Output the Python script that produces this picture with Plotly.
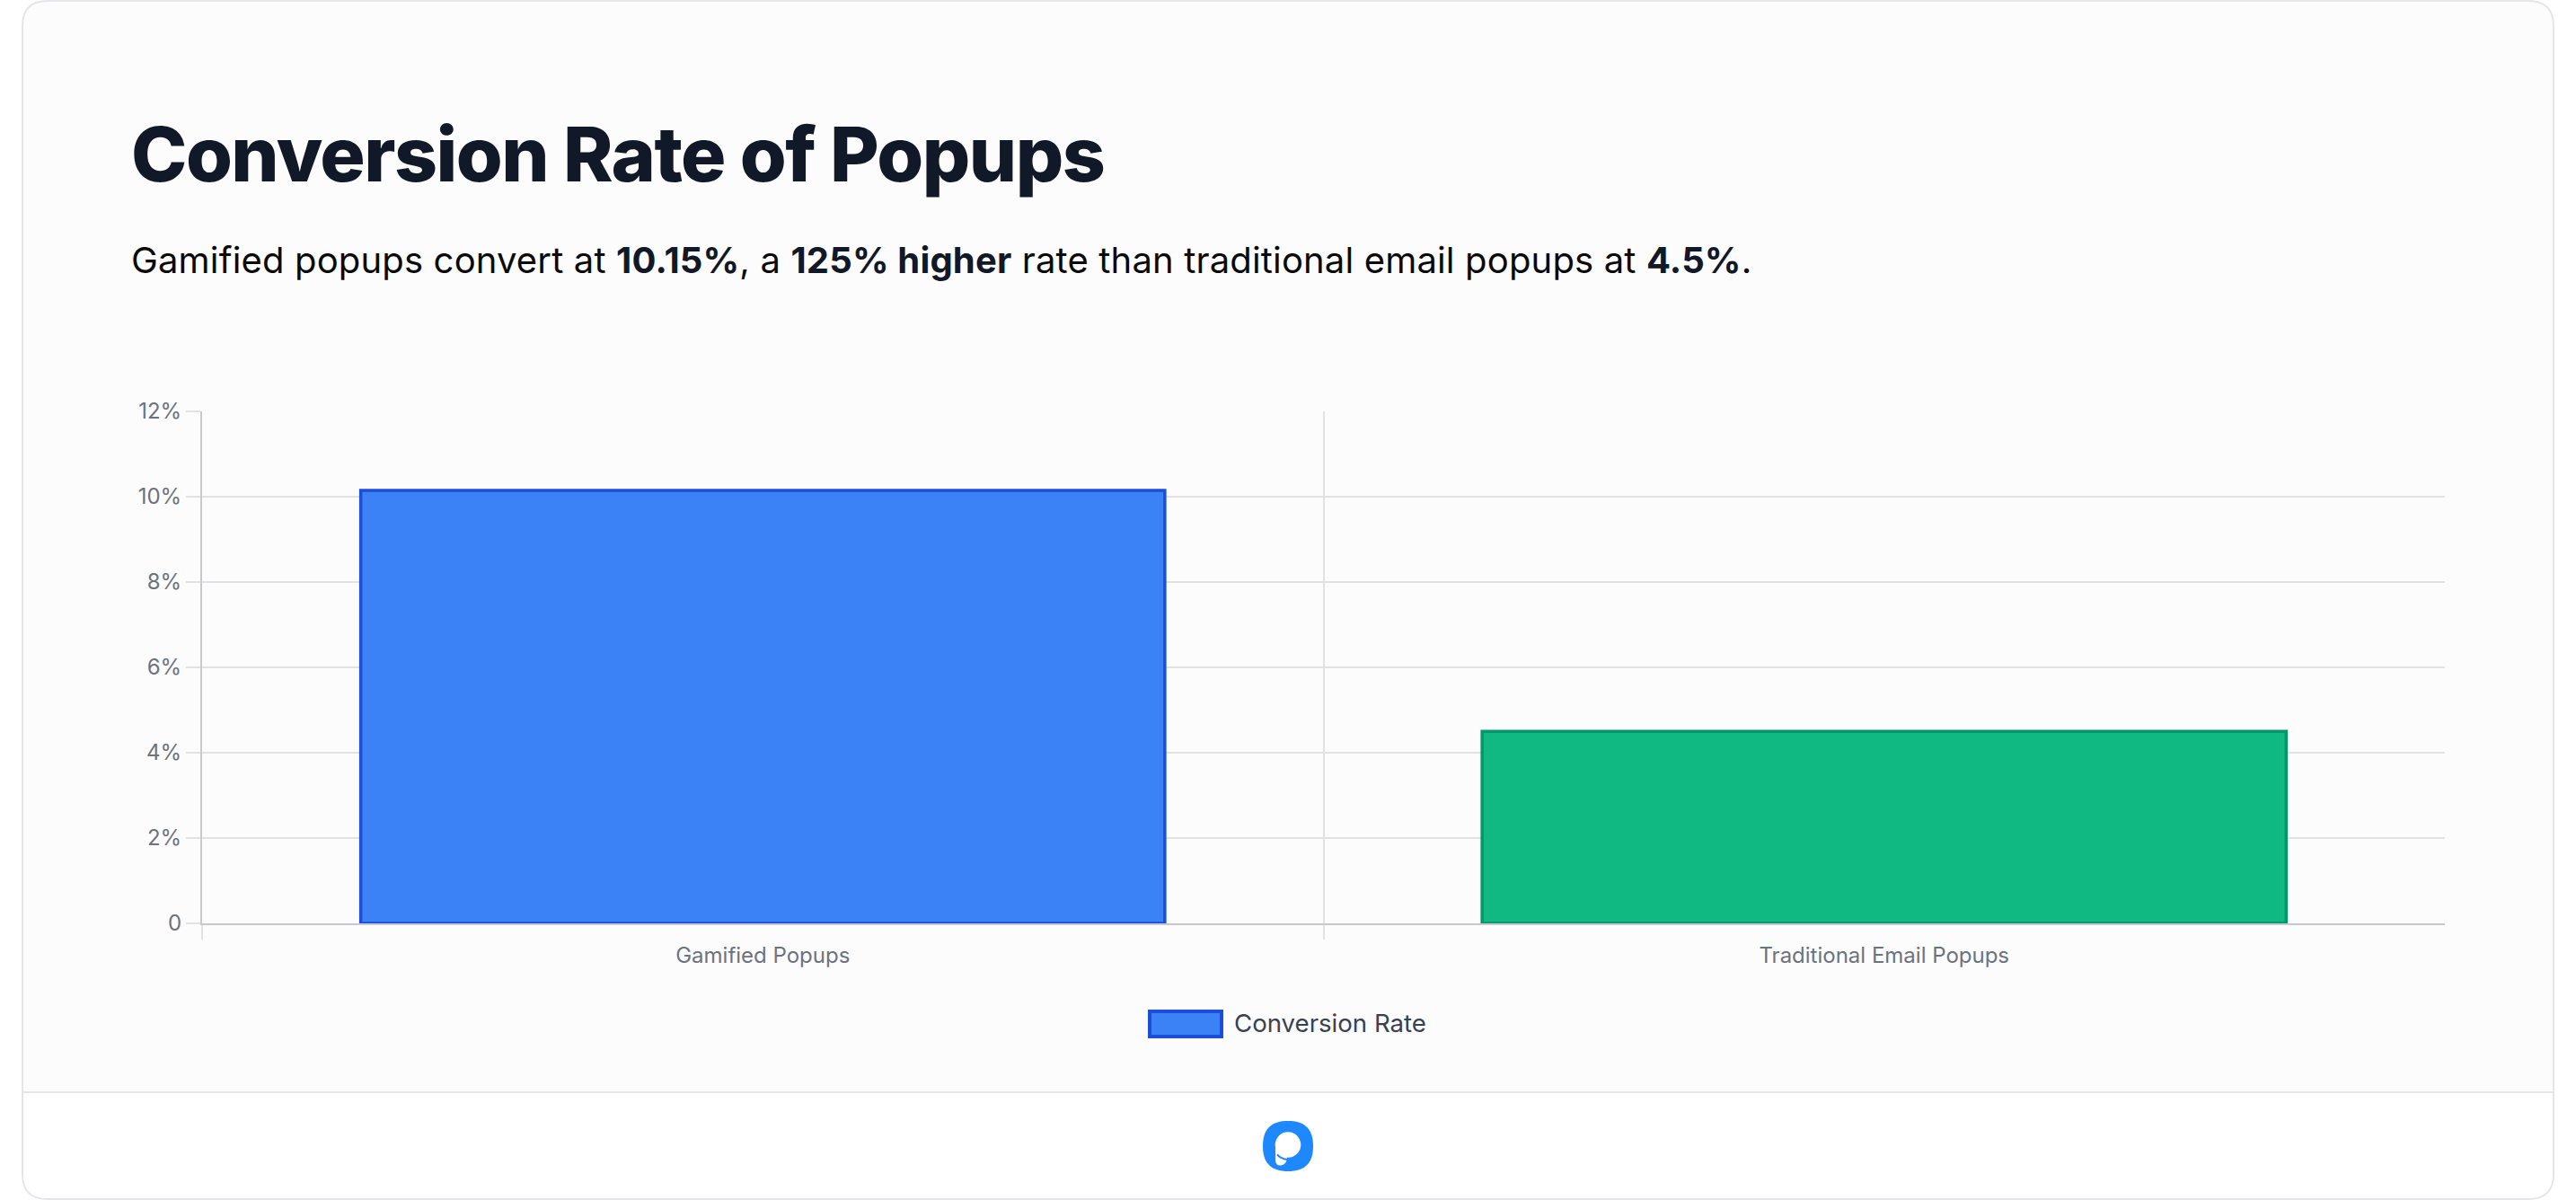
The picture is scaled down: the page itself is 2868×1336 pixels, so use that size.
import plotly.graph_objects as go

W = 2868
H = 1336

categories = ["Gamified Popups", "Traditional Email Popups"]
conversion_rate = [10.15, 4.5]
bar_colors = ["#3B82F6", "#10B981"]
bar_borders = ["#1D4ED8", "#059669"]
y_ticks = [0, 2, 4, 6, 8, 10, 12]
y_labels = ["0", "2%", "4%", "6%", "8%", "10%", "12%"]
series_name = "Conversion Rate"

title_text = "Conversion Rate of Popups"
subtitle_text = (
    'Gamified popups convert at <b><span style="color:#111827">10.15%</span></b>, a '
    '<b><span style="color:#111827">125% higher</span></b> rate '
    'than traditional email popups at <b><span style="color:#111827">4.5%</span></b>.'
)

FONT = "Inter"
GRID = "#E2E2E4"
AXIS = "#C9C9CD"


def px_x(x):
    return x / W


def px_y(y):
    return 1 - y / H


def path_from_px(cmds):
    # cmds: list of (letter, x1, y1, x2, y2...) in page pixels
    out = []
    for c in cmds:
        if c[0] == "Z":
            out.append("Z")
            continue
        pts = []
        for i in range(1, len(c), 2):
            pts.append(f"{px_x(c[i]):.6f},{px_y(c[i + 1]):.6f}")
        out.append(c[0] + " ".join(pts))
    return " ".join(out)


def round_rect(x0, y0, x1, y1, r):
    return path_from_px([
        ("M", x0 + r, y0), ("L", x1 - r, y0), ("Q", x1, y0, x1, y0 + r),
        ("L", x1, y1 - r), ("Q", x1, y1, x1 - r, y1), ("L", x0 + r, y1),
        ("Q", x0, y1, x0, y1 - r), ("L", x0, y0 + r), ("Q", x0, y0, x0 + r, y0), ("Z",),
    ])


def squircle(x0, y0, x1, y1):
    cx, cy = (x0 + x1) / 2, (y0 + y1) / 2
    k = 9
    return path_from_px([
        ("M", cx, y0), ("C", x1 - k, y0, x1, y0 + k, x1, cy),
        ("C", x1, y1 - k, x1 - k, y1, cx, y1), ("C", x0 + k, y1, x0, y1 - k, x0, cy),
        ("C", x0, y0 + k, x0 + k, y0, cx, y0), ("Z",),
    ])


fig = go.Figure()
fig.add_trace(go.Bar(
    x=categories,
    y=conversion_rate,
    name=series_name,
    marker=dict(color=bar_colors, line=dict(color=bar_borders, width=3.5)),
    showlegend=False,
))

shapes = [
    # card, footer
    dict(type="path", path=round_rect(25, 1, 2843, 1335, 28), xref="paper", yref="paper",
         fillcolor="#FCFCFC", line=dict(color="#E5E5EA", width=2), layer="below"),
    dict(type="path", path=path_from_px([
        ("M", 26, 1216), ("L", 2842, 1216), ("L", 2842, 1307), ("Q", 2842, 1334, 2815, 1334),
        ("L", 53, 1334), ("Q", 26, 1334, 26, 1307), ("Z",)]),
        xref="paper", yref="paper", fillcolor="#FFFFFF", line=dict(width=0), layer="below"),
    dict(type="line", x0=px_x(25), x1=px_x(2843), y0=px_y(1216), y1=px_y(1216), xref="paper", yref="paper",
         line=dict(color="#E5E5EA", width=2), layer="below"),
    # legend swatch
    dict(type="rect", x0=px_x(1280), x1=px_x(1360), y0=px_y(1126), y1=px_y(1154), xref="paper", yref="paper",
         fillcolor=bar_colors[0], line=dict(color=bar_borders[0], width=4)),
    # logo
    dict(type="path", path=squircle(1406, 1248, 1462, 1304), xref="paper", yref="paper",
         fillcolor="#1E88FF", line=dict(width=0)),
    dict(type="circle", x0=px_x(1419.7), x1=px_x(1448.3), y0=px_y(1260.2), y1=px_y(1288.8), xref="paper", yref="paper",
         fillcolor="#FFFFFF", line=dict(width=0)),
    dict(type="path", path=path_from_px([
        ("M", 1420, 1275), ("L", 1420, 1291), ("Q", 1420, 1298, 1426, 1297.5),
        ("Q", 1432, 1297, 1433, 1289), ("Z",)]),
        xref="paper", yref="paper", fillcolor="#FFFFFF", line=dict(width=0)),
    dict(type="path", path=path_from_px([("M", 1422, 1285.5), ("Q", 1426, 1290, 1433, 1291)]),
         xref="paper", yref="paper", line=dict(color="#1E88FF", width=2)),
]

annotations = [
    dict(text=title_text, x=px_x(146), y=px_y(202), xref="paper", yref="paper",
         xanchor="left", yanchor="bottom", showarrow=False, yshift=-22,
         font=dict(family=FONT, size=84, color="#111827", weight=800)),
    dict(text=subtitle_text, x=px_x(146), y=px_y(304), xref="paper", yref="paper",
         xanchor="left", yanchor="bottom", showarrow=False, yshift=-12,
         font=dict(family=FONT, size=40, color="#0A0A0A")),
    dict(text=series_name, x=px_x(1372), y=px_y(1139), xref="paper", yref="paper",
         xanchor="left", yanchor="middle", showarrow=False,
         font=dict(family=FONT, size=27.6, color="#374151")),
]

fig.update_layout(
    width=W,
    height=H,
    margin=dict(l=0, r=0, t=0, b=0),
    paper_bgcolor="#FFFFFF",
    plot_bgcolor="rgba(0,0,0,0)",
    bargap=0.283,
    showlegend=False,
    font=dict(family=FONT),
    shapes=shapes,
    annotations=annotations,
    xaxis=dict(
        domain=[px_x(225), px_x(2722)],
        type="category",
        automargin=False,
        tickson="boundaries",
        ticks="outside",
        ticklen=16,
        tickwidth=2,
        tickcolor=GRID,
        ticklabelstandoff=13,
        showgrid=True,
        gridcolor=GRID,
        gridwidth=2,
        showline=True,
        linecolor=AXIS,
        linewidth=2,
        tickfont=dict(family=FONT, size=24, color="#6B7280"),
    ),
    yaxis=dict(
        domain=[px_y(1028), px_y(458)],
        range=[0, 12],
        automargin=False,
        tickmode="array",
        tickvals=y_ticks,
        ticktext=y_labels,
        ticks="outside",
        ticklen=16,
        tickwidth=2,
        tickcolor=GRID,
        showgrid=True,
        gridcolor=GRID,
        gridwidth=2,
        zeroline=False,
        showline=True,
        linecolor=AXIS,
        linewidth=2,
        tickfont=dict(family=FONT, size=24, color="#6B7280"),
    ),
)

# plotly has no letter spacing attribute, set it on the two heading texts after drawing
# and pull them back to the left edge since the text is anchored on its old middle
post = """
document.body.style.margin='0';
document.documentElement.style.overflow='hidden';
var t=document.querySelectorAll('.annotation-text');
var sp=['-1.55px','0.16px'];
for(var i=0;i<2;i++){
  t[i].style.letterSpacing=sp[i];
  var b=t[i].getBoundingClientRect();
  t[i].setAttribute('x',parseFloat(t[i].getAttribute('x'))+(146-b.left));
}
"""

fig.write_html("out.html", config={"displayModeBar": False}, post_script=post)
